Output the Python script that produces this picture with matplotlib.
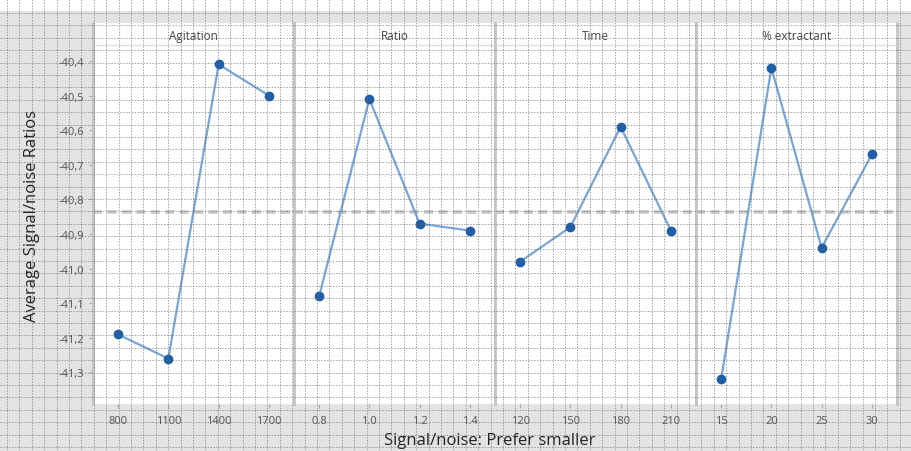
import numpy as np
import matplotlib
matplotlib.use('Agg')
import matplotlib.pyplot as plt

factors = ['Agitation', 'Ratio', 'Time', '% extractant']
levels = [['800', '1100', '1400', '1700'],
          ['0.8', '1.0', '1.2', '1.4'],
          ['120', '150', '180', '210'],
          ['15', '20', '25', '30']]
agitation_sn = [-41.19, -41.26, -40.41, -40.50]
ratio_sn = [-41.08, -40.51, -40.87, -40.89]
time_sn = [-40.98, -40.88, -40.59, -40.89]
extractant_sn = [-41.32, -40.42, -40.94, -40.67]
yticks = [-40.4, -40.5, -40.6, -40.7, -40.8, -40.9, -41.0, -41.1, -41.2, -41.3]

series = [agitation_sn, ratio_sn, time_sn, extractant_sn]
grand_mean = np.mean(np.concatenate(series))

W, H = 912, 452
fig = plt.figure(figsize=(W / 100, H / 100), dpi=100)
fig.patch.set_facecolor('#e3e3e3')
plt.rcParams['font.family'] = ['Open Sans', 'DejaVu Sans']

# white band at the very top (cropped title)
fig.add_artist(plt.Rectangle((0, 1 - 12 / H), 1, 12 / H, transform=fig.transFigure,
                             facecolor='white', edgecolor='none', zorder=0))

left, right = 93, 897
top, bottom = 46, 405
strip_top = 24
pw = (right - left) / 4

line_col = '#79a6d9'
mark_col = '#1f5ea8'
div_col = '#c4c4c4'

for i, (name, labs, vals) in enumerate(zip(factors, levels, series)):
    x0 = (left + i * pw) / W
    ax = fig.add_axes([x0, 1 - bottom / H, pw / W, (bottom - top) / H])
    ax.set_facecolor('white')
    xs = np.arange(len(vals))
    ax.axhline(grand_mean, color='#c8c8c8', lw=2.6, ls=(0, (2.5, 1.5)), zorder=1)
    ax.plot(xs, vals, color=line_col, lw=1.6, zorder=2)
    ax.plot(xs, vals, 'o', color=mark_col, ms=6, zorder=3)
    ax.set_xlim(-0.5, 3.5)
    ax.set_ylim(-41.391, -40.354)
    ax.set_xticks(xs)
    ax.set_xticklabels(labs, fontsize=8, color='#555555')
    ax.tick_params(axis='x', length=3, color='#aaaaaa', pad=5)
    ax.set_yticks(yticks)
    if i == 0:
        ax.set_yticklabels([('%.1f' % v).replace('.', ',') for v in yticks],
                           fontsize=8, color='#555555')
        ax.tick_params(axis='y', length=3, color='#aaaaaa')
    else:
        ax.tick_params(axis='y', left=False, labelleft=False)
    for s in ax.spines.values():
        s.set_color(div_col)
        s.set_linewidth(2)
    ax.spines['bottom'].set_visible(False)
    ax.spines['top'].set_visible(False)

    # strip header
    sax = fig.add_axes([x0, 1 - top / H, pw / W, (top - strip_top) / H])
    sax.set_facecolor('white')
    sax.set_xticks([])
    sax.set_yticks([])
    for s in sax.spines.values():
        s.set_color(div_col)
        s.set_linewidth(2)
    sax.spines['top'].set_visible(False)
    sax.spines['bottom'].set_linewidth(0.8)
    sax.spines['bottom'].set_color('#d8d8d8')
    sax.text(0.5, 0.45, name, ha='center', va='center', fontsize=8.5,
             color='#444444', transform=sax.transAxes)

fig.text(32 / W, 0.5 + 10 / H, 'Average Signal/noise Ratios', rotation=90,
         ha='center', va='center', fontsize=12, color='#222222')
fig.text(490 / W, 1 - 441 / H, 'Signal/noise: Prefer smaller',
         ha='center', va='center', fontsize=12, color='#222222')

# graph-paper overlay
ov = fig.add_axes([0, 0, 1, 1], zorder=10)
ov.patch.set_alpha(0)
ov.set_xlim(0, W)
ov.set_ylim(H, 0)
ov.axis('off')
gx = np.arange(7, W, 12.4)
gy = np.arange(14, H, 12.4)
ov.vlines(gx, 0, H, colors='#666666', lw=0.7, linestyles=(0, (1.5, 1.5)), alpha=0.6)
ov.hlines(gy, 0, W, colors='#666666', lw=0.7, linestyles=(0, (1.5, 1.5)), alpha=0.6)

fig.savefig('out.png', dpi=100, facecolor=fig.get_facecolor())
